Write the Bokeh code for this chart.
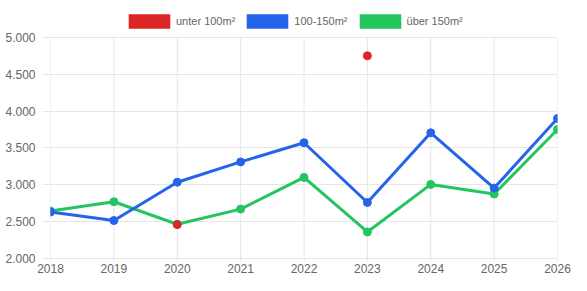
import math
from bokeh.plotting import figure
from bokeh.models import FixedTicker, Legend, LegendItem, Range1d
from bokeh.embed import file_html
from bokeh.resources import INLINE

# ---- data ----
years = [2018, 2019, 2020, 2021, 2022, 2023, 2024, 2025, 2026]
unter_100 = [math.nan, math.nan, 2460, math.nan, math.nan, 4750, math.nan, math.nan, math.nan]
m100_150 = [2630, 2515, 3035, 3310, 3570, 2760, 3705, 2955, 3900]
ueber_150 = [2645, 2770, 2465, 2670, 3100, 2360, 3005, 2875, 3750]
series_names = ["unter 100m²", "100-150m²", "über 150m²"]
y_ticks = [2000, 2500, 3000, 3500, 4000, 4500, 5000]
y_tick_labels = ["2.000", "2.500", "3.000", "3.500", "4.000", "4.500", "5.000"]

RED = "#dc2626"
BLUE = "#2563eb"
GREEN = "#22c55e"
GRID = "#e6e6e6"
TXT = "#666666"
FONT = "Liberation Sans"

# frame extends above 5000 to host the legend; axis stops at 5000 visually
p = figure(width=571, height=275, x_range=Range1d(2018, 2026), y_range=Range1d(2000, 5432),
           output_backend="svg", toolbar_location=None,
           min_border_left=50, min_border_right=14, min_border_top=5, min_border_bottom=16)
p.outline_line_color = None
p.background_fill_color = "white"

# axes
p.xaxis.ticker = FixedTicker(ticks=years)
p.yaxis.ticker = FixedTicker(ticks=y_ticks)
p.yaxis.major_label_overrides = {t: l for t, l in zip(y_ticks, y_tick_labels)}
for ax in (p.xaxis[0], p.yaxis[0]):
    ax.axis_line_color = GRID
    ax.major_tick_line_color = GRID
    ax.major_tick_in = 0
    ax.minor_tick_line_color = None
    ax.major_label_text_color = TXT
    ax.major_label_text_font = FONT
    ax.major_label_text_font_size = "12px"
p.yaxis.axis_line_color = None
p.xaxis.major_tick_out = 3
p.xaxis.major_label_standoff = 2
p.yaxis.major_tick_out = 8
p.yaxis.major_label_standoff = 7
p.xgrid.grid_line_color = None
p.ygrid.grid_line_color = GRID
p.ygrid.ticker = FixedTicker(ticks=y_ticks)

# vertical grid lines limited to the value range
p.segment(x0=years, y0=[y_ticks[0]] * len(years), x1=years, y1=[y_ticks[-1]] * len(years),
          line_color=GRID, line_width=1)

# series (green bottom, red on top)
p.line(years, ueber_150, line_color=GREEN, line_width=3)
p.scatter(years, ueber_150, size=8, fill_color=GREEN, line_color=GREEN)
p.line(years, m100_150, line_color=BLUE, line_width=3)
p.scatter(years, m100_150, size=8, fill_color=BLUE, line_color=BLUE)
p.line(years, unter_100, line_color=RED, line_width=3)
p.scatter(years, unter_100, size=8, fill_color=RED, line_color=RED)

# legend boxes (zero-size quads used only as legend swatches)
items = []
for name, col in zip(series_names, [RED, BLUE, GREEN]):
    r = p.quad(left=[years[0]], right=[years[0]], top=[y_ticks[0]], bottom=[y_ticks[0]],
               fill_color=col, line_color=None)
    items.append(LegendItem(label=name, renderers=[r]))

legend = Legend(items=items, orientation="horizontal", location=(73, 228),
                glyph_width=52, glyph_height=18, label_standoff=1, spacing=6,
                padding=0, margin=0, background_fill_alpha=0, border_line_alpha=0,
                label_text_font=FONT, label_text_font_size="11px", label_text_color=TXT,
                label_height=18)
p.add_layout(legend, "center")

open("out.html", "w").write(file_html(p, INLINE))
